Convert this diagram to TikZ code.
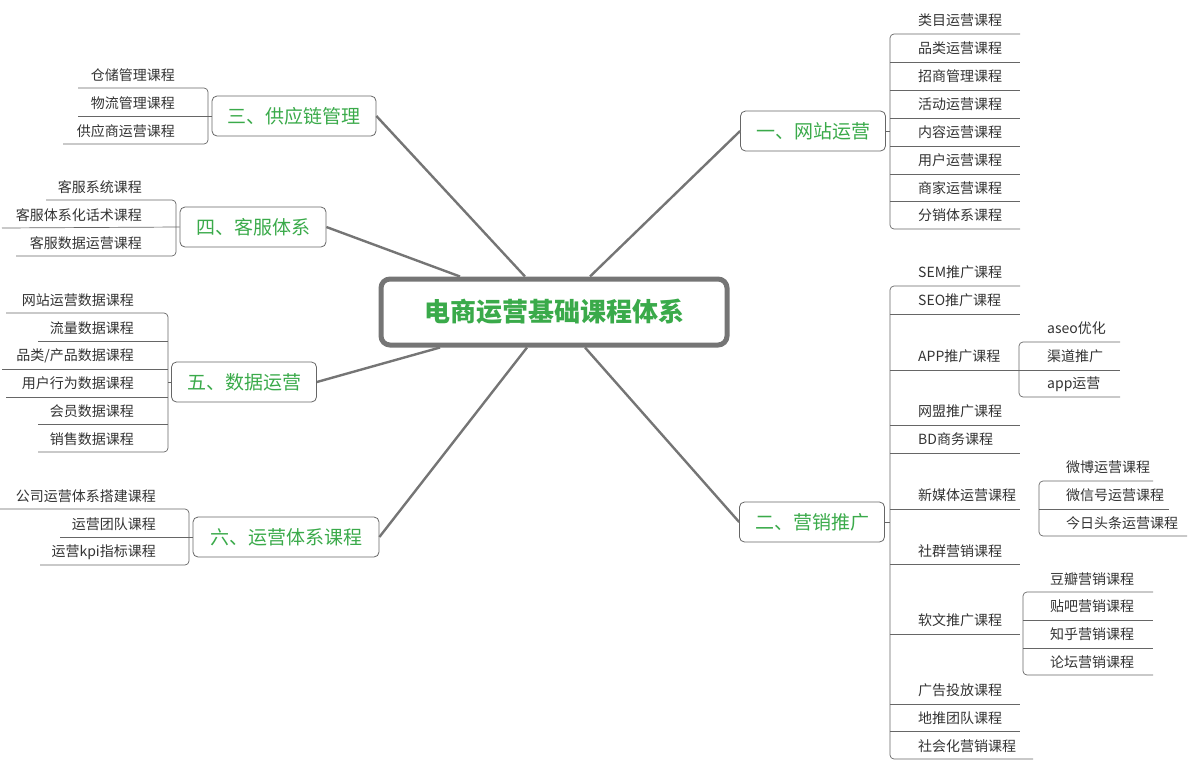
\documentclass[tikz,border=0pt]{standalone}
\usepackage{fontspec}
\setmainfont{Noto Sans CJK SC}
\definecolor{grn}{HTML}{3AAA4A}
\definecolor{ln}{HTML}{666666}
\begin{document}
\begin{tikzpicture}[x=1pt,y=-1pt,
  leaf/.style={inner sep=0pt,font=\fontsize{14}{14}\selectfont,text=black!80},
  lr/.style={leaf,anchor=west},
  ll/.style={leaf,anchor=east},
  br/.style={draw=ln,rounded corners=5,minimum height=40,inner sep=6pt,text=grn,font=\fontsize{19}{19}\selectfont,line width=0.8},
  ul/.style={draw=ln,line width=0.7},
  bk/.style={ul,rounded corners=4},
  main/.style={draw=ln!90,line width=2.4}]
\useasboundingbox (0,0) rectangle (1189,766);
% center
\node[draw=ln!90,line width=5,rounded corners=9,minimum width=346,minimum height=66,text=grn,font=\fontsize{26}{26}\selectfont\bfseries] (c) at (554,312) {电商运营基础课程体系};
% branches
\node[br,minimum width=145] (b1) at (813,131) {一、网站运营};
\node[br,minimum width=145] (b2) at (812,522) {二、营销推广};
\node[br,minimum width=164] (b3) at (294,116) {三、供应链管理};
\node[br,minimum width=146] (b4) at (253,227) {四、客服体系};
\node[br,minimum width=145] (b5) at (244,382) {五、数据运营};
\node[br,minimum width=186] (b6) at (286,537) {六、运营体系课程};
\draw[main] ([xshift=36]c.north) -- (b1.west);
\draw[main] ([xshift=31]c.south) -- (b2.west);
\draw[main] ([xshift=-29]c.north) -- (b3.east);
\draw[main] ([xshift=-94]c.north) -- (b4.east);
\draw[main] ([xshift=-114]c.south) -- (b5.east);
\draw[main] ([xshift=-27]c.south) -- (b6.east);
% group 1
\foreach \t/\y [count=\i] in {类目运营课程/20,品类运营课程/48,招商管理课程/76,活动运营课程/104,内容运营课程/132,用户运营课程/160,商家运营课程/188,分销体系课程/215}
  \node[lr] (a\i) at (918,\y) {\t};
\draw[bk] (1020,34) -- (890,34) -- (890,229) -- (1020,229);
\foreach \y in {62,90,118,146,174,201} \draw[ul] (890,\y) -- (1020,\y);
\draw[ul] (b1.east) -- (890,131);
% group 2
\foreach \t/\y [count=\i] in {SEM推广课程/272,SEO推广课程/300,APP推广课程/356,网盟推广课程/411,BD商务课程/439,新媒体运营课程/495,社群营销课程/551,软文推广课程/620,广告投放课程/690,地推团队课程/718,社会化营销课程/746}
  \node[lr] (m\i) at (918,\y) {\t};
\draw[bk] (1020,286) -- (890,286) -- (890,759) -- (1033,759);
\foreach \y in {314,370,425,453,509,564,634,704,731} \draw[ul] (890,\y) -- (1020,\y);
\draw[ul] (b2.east) -- (890,522);
% sub APP
\foreach \t/\y [count=\i] in {aseo优化/328,渠道推广/356,app运营/384}
  \node[lr] (p\i) at (1047,\y) {\t};
\draw[bk] (1120,342) -- (1019,342) -- (1019,397) -- (1120,397);
\draw[ul] (1019,370) -- (1120,370);
% sub 新媒体
\foreach \t/\y [count=\i] in {微博运营课程/467,微信号运营课程/495,今日头条运营课程/523}
  \node[lr] (w\i) at (1066,\y) {\t};
\draw[bk] (1153,481) -- (1039,481) -- (1039,536) -- (1187,536);
\draw[ul] (1039,509) -- (1169,509);
% sub 软文
\foreach \t/\y [count=\i] in {豆瓣营销课程/579,贴吧营销课程/606,知乎营销课程/634,论坛营销课程/662}
  \node[lr] (r\i) at (1050,\y) {\t};
\draw[bk] (1153,592) -- (1023,592) -- (1023,675) -- (1153,675);
\foreach \y in {620,648} \draw[ul] (1023,\y) -- (1153,\y);
% group 3
\foreach \t/\y [count=\i] in {仓储管理课程/75,物流管理课程/103,供应商运营课程/131}
  \node[ll] (s\i) at (175,\y) {\t};
\draw[bk] (78,88) -- (208,88) -- (208,144) -- (63,144);
\draw[ul] (78,116) -- (b3.west);
% group 4
\foreach \t/\y [count=\i] in {客服系统课程/187,客服体系化话术课程/215,客服数据运营课程/243}
  \node[ll] (k\i) at (142,\y) {\t};
\draw[bk] (46,200) -- (176,200) -- (176,256) -- (16,256);
\draw[ul] (2,228) -- (b4.west);
% group 5
\foreach \t/\y [count=\i] in {网站运营数据课程/300,流量数据课程/328,{品类/产品数据课程}/356,用户行为数据课程/383,会员数据课程/411,销售数据课程/439}
  \node[ll] (d\i) at (134,\y) {\t};
\draw[bk] (6,313) -- (168,313) -- (168,452) -- (38,452);
\draw[ul] (38,341) -- (168,341);
\draw[ul] (2,369) -- (168,369);
\draw[ul] (6,397) -- (168,397);
\draw[ul] (38,424) -- (168,424);
\draw[ul] (168,382) -- (b5.west);
% group 6
\foreach \t/\y [count=\i] in {公司运营体系搭建课程/496,运营团队课程/524,运营kpi指标课程/552}
  \node[ll] (o\i) at (156,\y) {\t};
\draw[bk] (0,509) -- (189,509) -- (189,565) -- (40,565);
\draw[ul] (60,537) -- (b6.west);
\end{tikzpicture}
\end{document}
